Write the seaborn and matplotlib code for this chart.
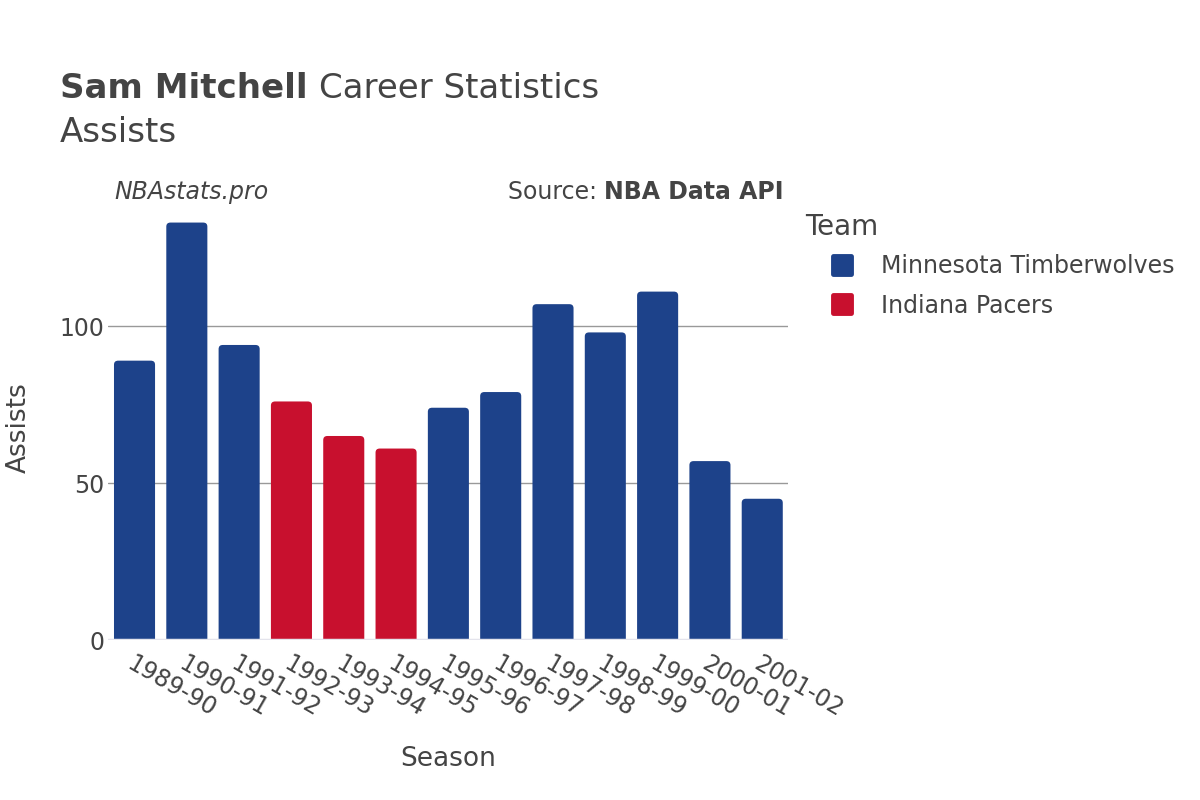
import matplotlib
matplotlib.use("Agg")
import matplotlib.pyplot as plt
import seaborn as sns
import pandas as pd
from matplotlib.patches import FancyBboxPatch
from matplotlib.lines import Line2D
from matplotlib.markers import MarkerStyle

seasons = ["1989-90", "1990-91", "1991-92", "1992-93", "1993-94", "1994-95", "1995-96",
           "1996-97", "1997-98", "1998-99", "1999-00", "2000-01", "2001-02"]
assists = [89, 133, 94, 76, 65, 61, 74, 79, 107, 98, 111, 57, 45]
teams = ["Minnesota Timberwolves", "Minnesota Timberwolves", "Minnesota Timberwolves",
         "Indiana Pacers", "Indiana Pacers", "Indiana Pacers",
         "Minnesota Timberwolves", "Minnesota Timberwolves", "Minnesota Timberwolves",
         "Minnesota Timberwolves", "Minnesota Timberwolves", "Minnesota Timberwolves",
         "Minnesota Timberwolves"]
team_order = ["Minnesota Timberwolves", "Indiana Pacers"]
team_colors = {"Minnesota Timberwolves": "#1D428A", "Indiana Pacers": "#C8102E"}

df = pd.DataFrame({"Season": seasons, "Assists": assists, "Team": teams})

sns.set_theme(style="white")
plt.rcParams['font.family'] = ['DejaVu Sans']
txt = "#444444"

fig = plt.figure(figsize=(12, 8), dpi=100)
ax = fig.add_axes([0.0903, 0.2, 0.5667, 0.5375])

sns.barplot(data=df, x="Season", y="Assists", hue="Team", hue_order=team_order,
            palette=team_colors, dodge=False, width=0.785, ax=ax, legend=False,
            saturation=1)

ax.set_ylim(0, 137)
ax.set_xlim(-0.5, len(seasons) - 0.5)

patches = list(ax.patches)
for p in patches:
    x, y = p.get_x(), p.get_y()
    w, h = p.get_width(), p.get_height()
    if h == 0 or pd.isna(h):
        p.remove()
        continue
    fc = p.get_facecolor()
    p.remove()
    fb = FancyBboxPatch((x, y - 5), w, h + 5,
                        boxstyle="round,pad=0,rounding_size=0.08",
                        mutation_aspect=16, facecolor=fc, edgecolor="none",
                        clip_on=True, zorder=2)
    ax.add_patch(fb)

for v in [50, 100]:
    ax.axhline(v, color="#999999", lw=1, zorder=1)
ax.axhline(0, color="#e4e4ec", lw=2.5, zorder=3)

for s in ax.spines.values():
    s.set_visible(False)

ax.set_yticks([0, 50, 100])
ax.set_yticklabels(["0", "50", "100"], fontsize=17, color=txt)
ax.tick_params(axis="y", length=0, pad=3)
ax.tick_params(axis="x", length=0, pad=8)
ax.set_xticks(range(len(seasons)))
ax.set_xticklabels(seasons, rotation=-30, ha="left", rotation_mode="anchor",
                   fontsize=17, color=txt)
ax.set_xlabel("Season", fontsize=19, color=txt, labelpad=18)
ax.set_ylabel("Assists", fontsize=19, color=txt)
ax.yaxis.set_label_coords(-0.113, 0.495)

fig.text(0.05, 0.889, "Sam Mitchell", fontsize=24.5, fontweight="bold", color=txt, va="center")
fig.text(0.2645, 0.889, "Career Statistics", fontsize=24.5, color=txt, va="center")
fig.text(0.05, 0.835, "Assists", fontsize=24.5, color=txt, va="center")

fig.text(0.095, 0.76, "NBAstats.pro", fontsize=17, style="italic", color=txt, va="center")
fig.text(0.653, 0.76, "NBA Data API", fontsize=17, fontweight="bold", color=txt,
         va="center", ha="right")
fig.text(0.42, 0.76, "Source: ", fontsize=17, color=txt, va="center")

fig.text(805 / 1200, 1 - 227 / 800, "Team", fontsize=20, color=txt, va="center", ha="left")

handles = [Line2D([0], [0], marker=MarkerStyle("s", joinstyle="round"), linestyle="none",
                  markersize=13, markeredgewidth=3.5,
                  markerfacecolor=team_colors[t], markeredgecolor=team_colors[t])
           for t in team_order]
leg = fig.legend(handles, team_order, loc="upper left",
                 bbox_to_anchor=(830 / 1200, 1 - 254 / 800),
                 frameon=False, fontsize=17, borderpad=0, borderaxespad=0,
                 handlelength=1.0, handletextpad=1.15, labelspacing=0.66)
for t in leg.get_texts():
    t.set_color(txt)

fig.canvas.draw()
r = fig.canvas.get_renderer()
bold = [t for t in fig.texts if t.get_text() == "NBA Data API"][0]
src = [t for t in fig.texts if t.get_text() == "Source: "][0]
bb = bold.get_window_extent(r)
sb = src.get_window_extent(r)
src.set_position(((bb.x0 - sb.width) / fig.bbox.width, 0.76))
tb = [t for t in fig.texts if t.get_text() == "Sam Mitchell"][0].get_window_extent(r)
[t for t in fig.texts if t.get_text() == "Career Statistics"][0].set_position(
    ((tb.x1 + 11) / fig.bbox.width, 0.889))

fig.savefig("out.png", dpi=100)
